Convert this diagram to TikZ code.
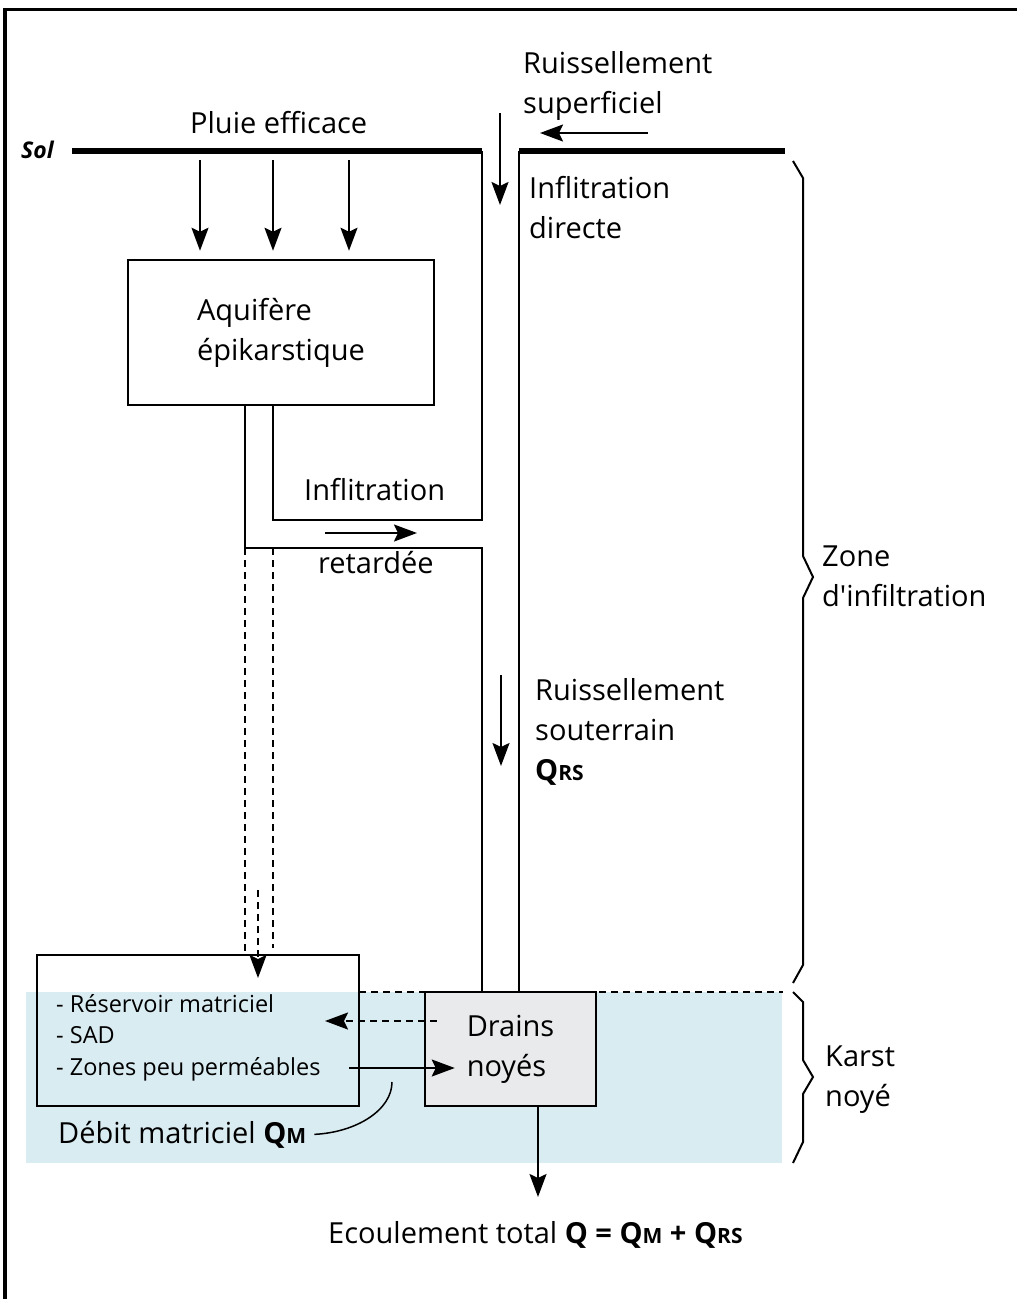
\documentclass[tikz,border=0pt]{standalone}
\usepackage{fontspec}
\setmainfont{Open Sans}
\usetikzlibrary{arrows.meta}
\definecolor{bleukarst}{RGB}{217,236,242}
\definecolor{grisdrain}{RGB}{232,234,235}
\newcommand\txtgrand{\fontsize{29}{40}\selectfont}
\newcommand\txtpetit{\fontsize{23.5}{31.5}\selectfont}
\newcommand\indq[1]{{\fontsize{21}{21}\selectfont #1}}
\tikzset{
  txt/.style = {inner sep=0pt, align=left, font=\txtgrand},
  boite/.style = {draw, line width=2.5pt, inner sep=0pt, align=left,
    font=\txtgrand},% reservoir
  flux/.style = {-{Stealth[length=23pt,width=17pt,inset=4pt]},
    line width=2pt},% ecoulement
  paroi/.style = {line width=2pt},
  sol/.style = {line width=6.5pt},
  tirets/.style = {line width=2pt, dash pattern=on 7pt off 5pt},
  accol/.style = {line width=2pt, line join=miter}% accolade
}

\begin{document}
\begin{tikzpicture}[x=1pt,y=-1pt]
\useasboundingbox (0,0) rectangle (1017,1299);
\draw[line width=3.5pt] (5,1299) -- (5,9.5) -- (1017,9.5);

% karst noye
\fill[bleukarst] (26,992) rectangle (782,1163);
\coordinate (niv) at (783,992);
\draw[tirets] (359,992) -- (niv);

% reservoirs
\node[boite, minimum width=306pt, minimum height=145pt] (aqui) at (281,332.5)
  {Aquifère\\épikarstique};
\node[boite, minimum width=322pt, minimum height=151pt] (matri) at (198,1030.5) {};
\node[boite, fill=grisdrain, minimum width=171pt, minimum height=114pt] (drains)
  at (510.5,1049) {Drains\\noyés};

% sol et conduits
\coordinate (solG) at (72,151);
\coordinate (canG) at (482,151);
\coordinate (canD) at (519,151);
\coordinate (solD) at (785,151);
\coordinate (int) at (273,520);
\coordinate (ext) at (245,548);
\draw[sol] (solG) -- (canG);
\draw[sol] (canD) -- (solD);
\draw[paroi] (canG) -- (canG |- int) -- (int) -- (int |- aqui.south);
\draw[paroi] (ext |- aqui.south) -- (ext) -- (ext -| canG) -- (canG |- drains.north);
\draw[paroi] (canD) -- (canD |- drains.north);
\draw[tirets] (ext) -- (ext |- matri.north);
\draw[tirets] (int |- ext) -- (273,948);

% textes
\node[txt, anchor=base west, font=\fontsize{23}{26}\selectfont\bfseries\itshape]
  (sol) at (21,158) {Sol};
\node[txt, anchor=base west] (pluie) at (190,133) {Pluie efficace};
\node[txt, anchor=north west] (ruisup) at (523,51) {Ruissellement\\superficiel};
\node[txt, anchor=north west] (infdir) at (529,176) {Inflitration\\directe};
\node[txt, anchor=base west] (infret) at (304,500) {Inflitration};
\node[txt, anchor=base west] (retard) at (318,573) {retardée};
\node[txt, anchor=north west] (ruisout) at (535,678)
  {Ruissellement\\souterrain\\\textbf{Q\indq{RS}}};
\node[txt, anchor=north west] (zone) at (822,546)
  {Zone\\d\textquotesingle infiltration};
\node[txt, anchor=north west] (karst) at (825,1046) {Karst\\noyé};
\node[txt, anchor=north west, font=\txtpetit] (liste) at (56,994)
  {- Réservoir matriciel\\- SAD\\- Zones peu perméables};
\node[txt, anchor=base west] (debit) at (58,1143)
  {Débit matriciel \textbf{Q\indq{M}}};
\node[txt, anchor=base west] (ecoul) at (328,1243)
  {Ecoulement total \textbf{Q = Q\indq{M} + Q\indq{RS}}};

% flux
\foreach \x [count=\i] in {200,273,349} {
  \coordinate (pluie\i) at (\x,160);
  \draw[flux, shorten >=8pt] (pluie\i) -- (pluie\i |- aqui.north);
}
\coordinate (rs) at (648,133);
\draw[flux] (rs) -- (540,133);
\coordinate (id) at (500,113);
\draw[flux] (id) -- (500,205);
\coordinate (ir) at (325,533);
\draw[flux] (ir) -- (417,533);
\coordinate (rso) at (501,675);
\draw[flux] (rso) -- (501,766);
\coordinate (perc) at (258,890);
\draw[tirets, flux] (perc) -- (258,978);
\coordinate (ret) at (325,1021);
\draw[tirets, flux] ([xshift=13pt]drains.west |- ret) -- (ret);
\coordinate (qm) at (349,1068);
\draw[flux] (qm) -- ([xshift=31pt]drains.west |- qm);
\coordinate (sortie) at (538,1197);
\draw[flux] (drains.south -| sortie) -- (sortie);
\coordinate (qmfin) at (392,1082);
\draw[line width=1.5pt] ([xshift=8pt]debit.east) .. controls +(42,-2) and +(0,28) .. (qmfin);

% accolades
\draw[accol] (793,161) -- (803,178) -- (803,556) -- (813,577) -- (803,598)
  -- (803,965) -- (793,983);
\draw[accol] (793,992) -- (803,1002) -- (803,1060) -- (813,1077) -- (803,1094)
  -- (803,1142) -- (793,1163);
\end{tikzpicture}
\end{document}
